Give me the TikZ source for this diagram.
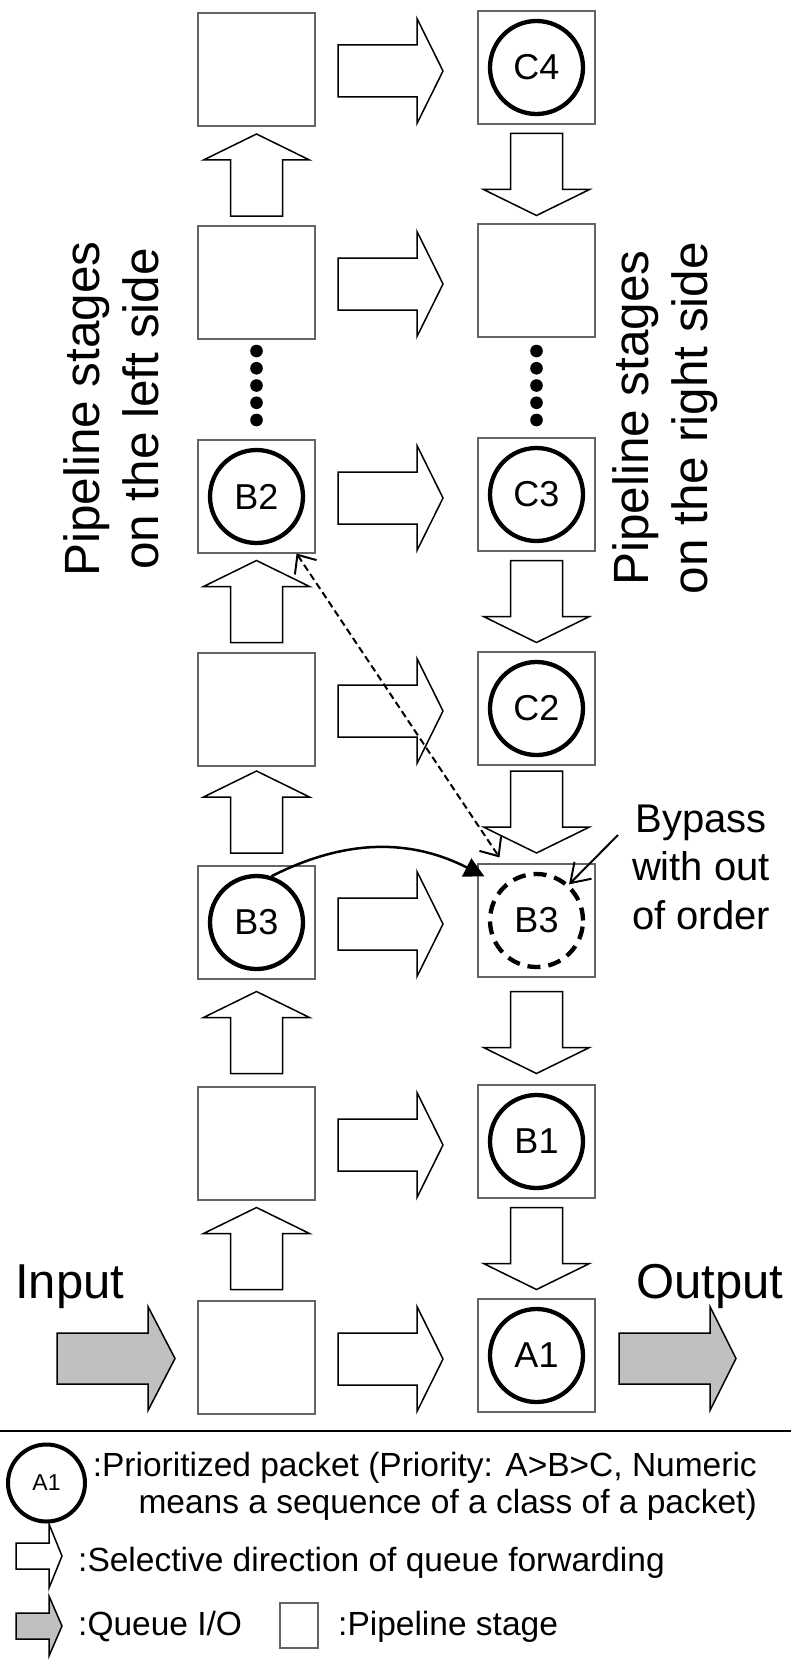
\documentclass[tikz,border=0pt]{standalone}
\usepackage{fontspec}
\setmainfont{Liberation Sans}
\usetikzlibrary{arrows.meta,calc}
\definecolor{iogray}{RGB}{192,192,192}
\definecolor{boxline}{RGB}{100,100,100}
% #1 x, #2 y, #3 angle, #4 length, #5 head length, #6 head half width, #7 shaft half width, #8 style
\newcommand\blockarrow[8]{%
  \draw[#8,shift={(#1,#2)},rotate=#3]
    ({-#4/2},{-#7}) -- ({#4/2-#5},{-#7}) -- ({#4/2-#5},{-#6}) -- ({#4/2},0)
    -- ({#4/2-#5},{#6}) -- ({#4/2-#5},{#7}) -- ({-#4/2},{#7}) -- cycle;}
\tikzset{
  stage/.style={draw=boxline, line width=1.1pt, minimum width=117pt, minimum height=113pt, inner sep=0pt},
  packet/.style={circle, draw=black, line width=4.3pt, minimum size=93pt, inner sep=0pt, font=\fontsize{36}{42}\selectfont},
  dpacket/.style={packet, dash pattern=on 13pt off 8pt},
  fwd/.style={draw=black, fill=white, line width=1.5pt, line join=miter},
  io/.style={fwd, fill=iogray},
  dotmark/.style={fill=black},
  bigtext/.style={font=\fontsize{49}{57.6}\selectfont, inner sep=0pt},
  sidetext/.style={font=\fontsize{49.5}{59}\selectfont, inner sep=0pt},
  notetext/.style={font=\fontsize{40}{48.5}\selectfont, inner sep=0pt},
  legtext/.style={font=\fontsize{33.5}{37.5}\selectfont, inner sep=0pt},
  swaplink/.style={line width=2pt, dash pattern=on 7pt off 4pt,
     {Straight Barb[length=15pt,width=26pt]}-{Straight Barb[length=15pt,width=26pt]}},
  bypasslink/.style={line width=2.5pt, -{Triangle[length=20pt,width=20pt]}},
  pointer/.style={line width=2pt, -{Straight Barb[length=18pt,width=24pt]}}
}
\begin{document}
\begin{tikzpicture}[x=1pt,y=-1pt]
\useasboundingbox (0,0) rectangle (791,1664);
% pipeline stages
\node[stage] (L1) at (256.5,69.5) {};
\node[stage] (L2) at (256.5,282.5) {};
\node[stage] (L3) at (256.5,496.5) {};
\node[stage] (L4) at (256.5,709.5) {};
\node[stage] (L5) at (256.5,922.5) {};
\node[stage] (L6) at (256.5,1143.5) {};
\node[stage] (L7) at (256.5,1357.5) {};
\node[stage] (R1) at (536.5,67.5) {};
\node[stage] (R2) at (536.5,280.5) {};
\node[stage] (R3) at (536.5,494.5) {};
\node[stage] (R4) at (536.5,708.5) {};
\node[stage] (R5) at (536.5,920.5) {};
\node[stage] (R6) at (536.5,1141.5) {};
\node[stage] (R7) at (536.5,1355.5) {};
% packets
\node[packet] (B2) at (L3) {B2};
\node[packet] (B3L) at (L5) {B3};
\node[packet] (C4) at (R1) {C4};
\node[packet] (C3) at (R3) {C3};
\node[packet] (C2) at (R4) {C2};
\node[dpacket] (B3R) at (R5) {B3};
\node[packet] (B1) at (R6) {B1};
\node[packet] (A1) at (R7) {A1};
% forwarding arrows (left to right)
\foreach \yy in {71,284,498,711,924,1145,1359}{\blockarrow{390.5}{\yy}{0}{105}{26}{52.5}{26}{fwd}}
% up arrows (left column)
\foreach \yy in {175,601.5,812,1032.5,1248.5}{\blockarrow{256.5}{\yy}{90}{82}{26}{53}{26}{fwd}}
% down arrows (right column)
\foreach \yy in {174.5,601.5,812,1032.5,1248.5}{\blockarrow{536.5}{\yy}{-90}{82}{26}{53}{26}{fwd}}
% queue I/O
\blockarrow{116}{1358.5}{0}{118}{27}{52}{25.5}{io}
\blockarrow{677.5}{1358.5}{0}{117}{26}{52}{25.5}{io}
% dots
\foreach \k in {0,...,4}{
  \fill[dotmark] (256.5,{351+17.25*\k}) circle[radius=6.3];
  \fill[dotmark] (536.5,{351+17.25*\k}) circle[radius=6.3];
}
% texts
\node[bigtext, anchor=base west] (input) at (15,1298) {Input};
\node[bigtext, anchor=base west] (output) at (636,1298) {Output};
\node[sidetext, rotate=90, align=center] (leftlabel) at (111,409) {Pipeline stages\\on the left side};
\node[sidetext, rotate=90, align=center] (rightlabel) at (665,418) {Pipeline stages\\on the right side};
\node[notetext, align=center] (bypass) at (701,867.2) {Bypass\\with out\\of order};
% connectors
\draw[swaplink] ($(L3.south east)+(-19,0)$) -- ($(R5.north west)+(22,-6)$);
\draw[bypasslink] (B3L.72) to[bend left=27] ($(R5.north west)+(7,13)$);
\coordinate (bp) at (618,835);
\draw[pointer] (bp) -- (B3R.48);
% legend
\draw[line width=1.5pt] (0,1431) -- (791,1431);
\node[packet, line width=4pt, minimum size=77pt, font=\fontsize{23}{28}\selectfont] (legA1) at (46.5,1483) {A1};
\node[legtext, align=right, anchor=north east] (leg1) at (757,1451.6) {:Prioritized packet (Priority: A>B>C, Numeric\\means a sequence of a class of a packet)};
\blockarrow{39}{1556}{0}{46}{13}{32}{13}{fwd}
\node[legtext, anchor=base west] (leg2) at (78,1571) {:Selective direction of queue forwarding};
\blockarrow{39}{1626}{0}{46}{13}{30}{13}{io}
\node[legtext, anchor=base west] (leg3) at (78,1635) {:Queue I/O};
\node[stage, minimum width=38pt, minimum height=45pt] (legbox) at (299,1625.5) {};
\node[legtext, anchor=base west] (leg4) at (338,1635) {:Pipeline stage};
\end{tikzpicture}
\end{document}
